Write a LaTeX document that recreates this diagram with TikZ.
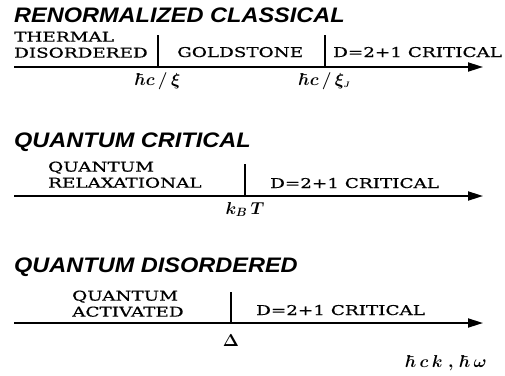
\documentclass[tikz,border=0pt]{standalone}
\usepackage{fontspec}
\usepackage{amsmath,amssymb}
\usetikzlibrary{arrows.meta,positioning}
\newfontfamily\titlefont[FakeStretch=1.12]{Liberation Sans}
\newfontfamily\regionfont[FakeStretch=1.36,FakeBold=0.6]{DejaVu Serif}

\begin{document}
\begin{tikzpicture}[x=1pt,y=-1pt,>={Triangle[length=15pt,width=9pt]},
  axis/.style={line width=1.8pt,->},
  tick/.style={line width=1.2pt},
  panel/.style={anchor=base west,inner sep=0pt,font=\titlefont\bfseries\itshape\fontsize{21}{21}\selectfont},
  region/.style={inner sep=0pt,align=left,font=\regionfont\fontsize{13.5}{16}\selectfont},
  scalelabel/.style={inner sep=0pt,font=\fontsize{17}{17}\selectfont\boldmath}]
  \useasboundingbox (0,0) rectangle (505,375);

  % renormalized classical
  \node[panel] (rc) at (14,22) {RENORMALIZED CLASSICAL};
  \coordinate (s1) at (14,67);
  \coordinate (e1) at (483,67);
  \coordinate (p1) at (158,67);
  \coordinate (q1) at (158,35);
  \coordinate (p2) at (325,67);
  \coordinate (q2) at (325,35);
  \draw[axis] (s1) -- (e1);
  \draw[tick] (p1) -- (q1);
  \draw[tick] (p2) -- (q2);
  \node[region,anchor=south west] (thermal) at (14,58) {THERMAL\\DISORDERED};
  \node[region,anchor=base west] (gold) at (177,57) {GOLDSTONE};
  \node[region,anchor=base west] (crit1) at (333,57) {D=2+1 CRITICAL};
  \node[scalelabel,below=5pt of p1] (xi) {$\hbar c\,/\,\xi$};
  \node[scalelabel,below=5pt of p2] (xij) {$\hbar c\,/\,\xi_{\scriptscriptstyle J}$};

  % quantum critical
  \node[panel] (qc) at (14,147) {QUANTUM CRITICAL};
  \coordinate (s2) at (14,196);
  \coordinate (e2) at (483,196);
  \coordinate (p3) at (245,196);
  \coordinate (q3) at (245,164);
  \draw[axis] (s2) -- (e2);
  \draw[tick] (p3) -- (q3);
  \node[region,anchor=south west] (relax) at (48,188) {QUANTUM\\RELAXATIONAL};
  \node[region,anchor=base west] (crit2) at (270,188) {D=2+1 CRITICAL};
  \node[scalelabel,below=6pt of p3] (kt) {$k_{\scriptstyle B}\,T$};

  % quantum disordered
  \node[panel] (qd) at (14,272) {QUANTUM DISORDERED};
  \coordinate (s3) at (14,323);
  \coordinate (e3) at (483,323);
  \coordinate (p4) at (231,323);
  \coordinate (q4) at (231,292);
  \draw[axis] (s3) -- (e3);
  \draw[tick] (p4) -- (q4);
  \node[region,anchor=south west] (activ) at (72,317) {QUANTUM\\ACTIVATED};
  \node[region,anchor=base west] (crit3) at (256,315) {D=2+1 CRITICAL};
  \node[scalelabel,below=11pt of p4] (gap) {$\Delta$};
  \node[scalelabel,anchor=base east] (omega) at (487,367) {$\hbar\,c\,k\;,\,\hbar\,\omega$};
\end{tikzpicture}
\end{document}
